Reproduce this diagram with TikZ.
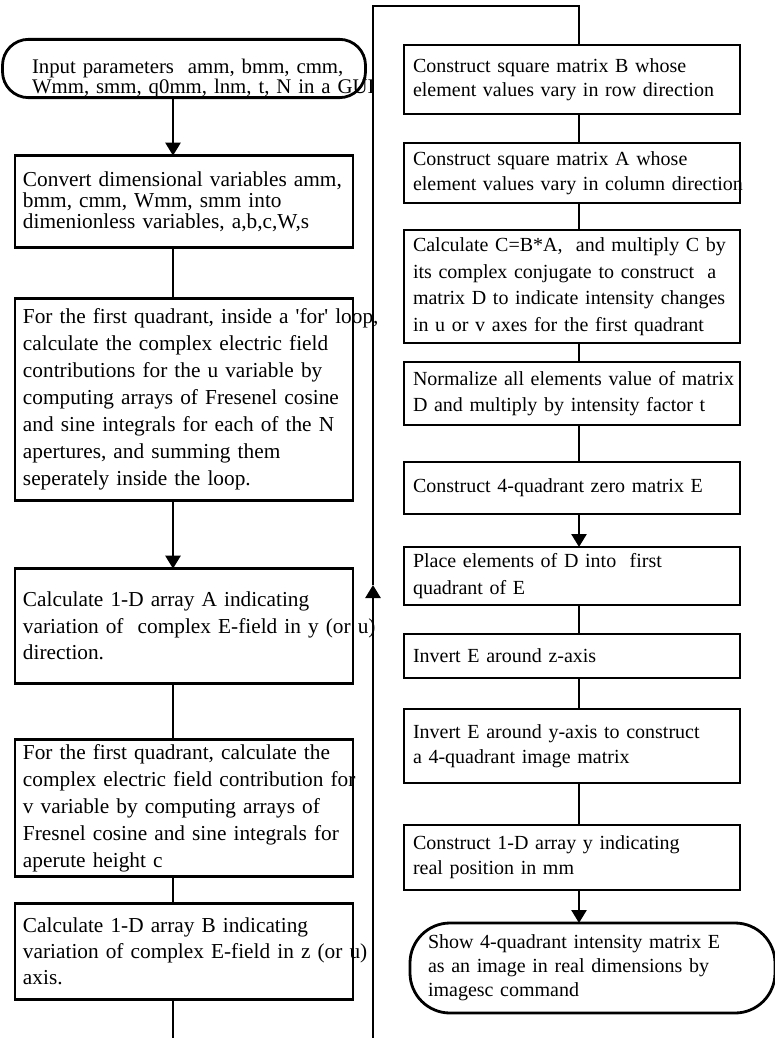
\documentclass[tikz,border=0pt]{standalone}
\usepackage{fontspec}
\setmainfont{Liberation Serif}
\usetikzlibrary{arrows.meta, positioning}

\begin{document}
\begin{tikzpicture}[
    x=1pt, y=1pt,
    node distance=30pt,
    box/.style={rectangle, draw, line width=2.8pt, align=left, inner xsep=8pt, inner ysep=0pt, outer sep=0pt},
    lbox/.style={box, minimum width=338pt, text width=322pt, font=\fontsize{21.3}{#1}\selectfont},
    rbox/.style={box, minimum width=336pt, text width=318pt, inner xsep=9pt, font=\fontsize{20}{#1}\selectfont},
    term/.style={rectangle, draw, line width=2.8pt, align=left, inner ysep=0pt, outer sep=0pt},
    arr/.style={-{Triangle[length=13pt, width=15pt]}, line width=2.6pt},
    ln/.style={line width=2.6pt}
]
\useasboundingbox (0,0) rectangle (775,-1038);

\node[term, minimum width=363pt, minimum height=57pt, rounded corners=26pt, text width=304pt,
      font=\fontsize{20.8}{18.5}\selectfont] (inp) at (184,-68.5)
  {\rule{0pt}{34pt}\mbox{Input parameters~ amm, bmm, cmm,}\\ \mbox{Wmm, smm, q0mm, lnm, t, N in a GUI}};
\node[lbox=21pt, minimum height=92pt, below=58pt of inp] (conv)
  {Convert dimensional variables amm,\\ bmm, cmm, Wmm, smm into\\ dimenionless variables, a,b,c,W,s};
\node[lbox=27pt, minimum height=202pt, below=51pt of conv] (fieldu)
  {\mbox{For the first quadrant, inside a \textquotesingle for\textquotesingle\ loop,}\\
   calculate the complex electric field\\ contributions for the u variable by\\
   \mbox{computing arrays of Fresenel cosine}\\ and sine integrals for each of the N\\
   apertures, and summing them\\ seperately inside the loop.};
\node[lbox=26.5pt, minimum height=115pt, below=68pt of fieldu] (arrA)
  {Calculate 1-D array A indicating\\ \mbox{variation of~ complex E-field in y (or u)}\\ direction.};
\node[lbox=27pt, minimum height=137pt, below=56pt of arrA] (fieldv)
  {For the first quadrant, calculate the\\ \mbox{complex electric field contribution for}\\
   v variable by computing arrays of\\ \mbox{Fresnel cosine and sine integrals for}\\ aperute height c};
\node[lbox=26pt, minimum height=96pt, below=27pt of fieldv] (arrB)
  {Calculate 1-D array B indicating\\ \mbox{variation of complex E-field in z (or u)}\\ axis.};

\node[rbox=24pt, minimum height=69pt] (matB) at (572,-79.5)
  {Construct square matrix B whose\\ element values vary in row direction};
\node[rbox=25pt, minimum height=60pt, below=29pt of matB] (matA)
  {Construct square matrix A whose\\ \mbox{element values vary in column direction}};
\node[rbox=26.5pt, minimum height=113pt, below=27pt of matA] (matD)
  {\mbox{Calculate C=B*A,~ and multiply C by}\\ \mbox{its complex conjugate to construct~ a}\\
   \mbox{matrix D to indicate intensity changes}\\ \mbox{in u or v axes for the first quadrant}};
\node[rbox=26pt, minimum height=63pt, below=19pt of matD] (norm)
  {\mbox{Normalize all elements value of matrix}\\ D and multiply by intensity factor t};
\node[rbox=26pt, minimum height=52pt, below=37pt of norm] (zeroE)
  {Construct 4-quadrant zero matrix E};
\node[rbox=27pt, minimum height=58pt, below=33pt of zeroE] (place)
  {Place elements of D into~ first\\ quadrant of E};
\node[rbox=26pt, minimum height=44pt, below=29pt of place] (invz)
  {Invert E around z-axis};
\node[rbox=25pt, minimum height=74pt, below=31pt of invz] (invy)
  {Invert E around y-axis to construct\\ a 4-quadrant image matrix};
\node[rbox=25pt, minimum height=65pt, below=42pt of invy] (posy)
  {Construct 1-D array y indicating\\ real position in mm};
\node[term, minimum width=365pt, minimum height=90pt, rounded corners=40pt, text width=329pt,
      font=\fontsize{20}{24}\selectfont, below=33pt of posy, xshift=20.5pt] (show)
  {Show 4-quadrant intensity matrix E\\ as an image in real dimensions by\\ imagesc command};

\coordinate (lx) at (173,0);
\coordinate (rx) at (579,0);
\coordinate (lpA) at (173,-1041);
\coordinate (lpB) at (373,-1041);
\coordinate (lpC) at (373,-585);
\coordinate (lpD) at (373,-6);

\draw[arr] (inp.south -| lx) -- (conv.north -| lx);
\draw[ln] (conv.south -| lx) -- (fieldu.north -| lx);
\draw[arr] (fieldu.south -| lx) -- (arrA.north -| lx);
\draw[ln] (arrA.south -| lx) -- (fieldv.north -| lx);
\draw[ln] (fieldv.south -| lx) -- (arrB.north -| lx);
\draw[arr] (arrB.south -| lx) -- (lpA) -- (lpB) -- (lpC);
\draw[ln] (lpC) -- (lpD) -| (matB.north -| rx);

\draw[ln] (matB.south -| rx) -- (matA.north -| rx);
\draw[ln] (matA.south -| rx) -- (matD.north -| rx);
\draw[ln] (matD.south -| rx) -- (norm.north -| rx);
\draw[ln] (norm.south -| rx) -- (zeroE.north -| rx);
\draw[arr] (zeroE.south -| rx) -- (place.north -| rx);
\draw[ln] (place.south -| rx) -- (invz.north -| rx);
\draw[ln] (invz.south -| rx) -- (invy.north -| rx);
\draw[ln] (invy.south -| rx) -- (posy.north -| rx);
\draw[arr] (posy.south -| rx) -- (show.north -| rx);
\end{tikzpicture}
\end{document}
